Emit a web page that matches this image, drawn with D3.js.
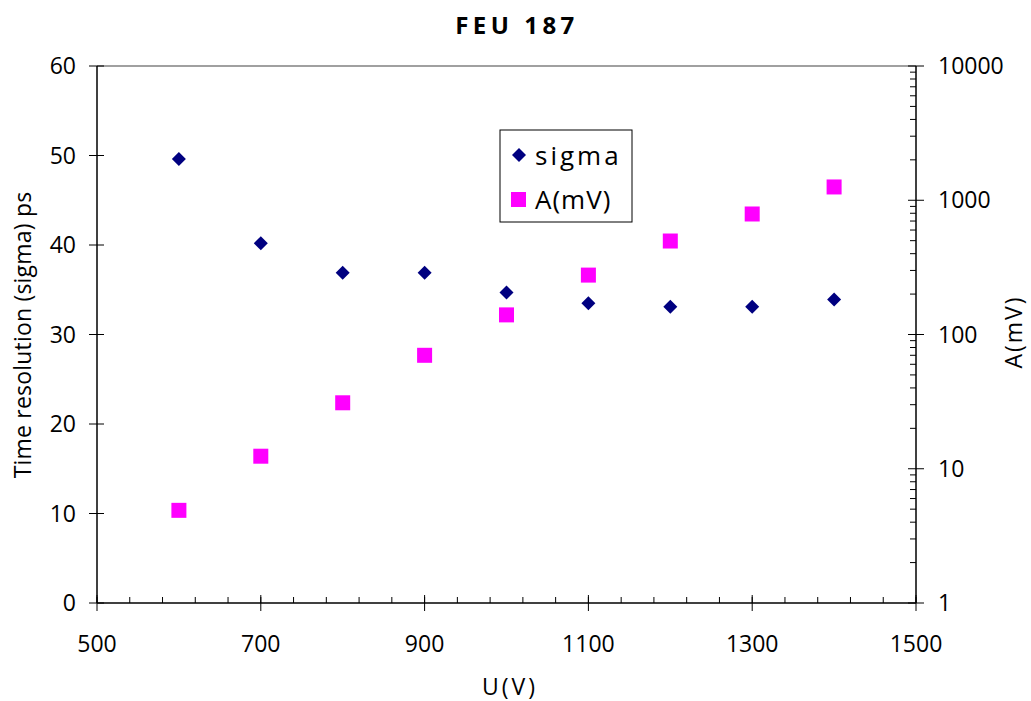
<!DOCTYPE html>
<html>
<head>
<meta charset="utf-8">
<script src="https://cdn.jsdelivr.net/npm/d3@7"></script>
<style>
  body { margin: 0; background: #fff; }
  text { font-family: "Open Sans", "DejaVu Sans", sans-serif; fill: #000; }
</style>
</head>
<body>
<svg id="chart" width="1031" height="701"></svg>
<script>
// Data
const voltage = [600, 700, 800, 900, 1000, 1100, 1200, 1300, 1400];
const sigma = [49.6, 40.2, 36.9, 36.9, 34.7, 33.5, 33.1, 33.1, 33.9];
const amplitude = [4.9, 12.4, 31, 70, 140, 277, 497, 790, 1256];
const xTicks = [500, 700, 900, 1100, 1300, 1500];
const yTicks = [0, 10, 20, 30, 40, 50, 60];
const y2Ticks = [1, 10, 100, 1000, 10000];

const margin = { top: 66, right: 115, bottom: 98, left: 97 },
      width = 1031 - margin.left - margin.right,
      height = 701 - margin.top - margin.bottom;

const svg = d3.select("#chart")
  .append("g")
  .attr("transform", `translate(${margin.left},${margin.top})`);

const x = d3.scaleLinear().domain([500, 1500]).range([0, width]);
const y = d3.scaleLinear().domain([0, 60]).range([height, 0]);
const y2 = d3.scaleLog().domain([1, 10000]).range([height, 0]);

// plot border (top)
svg.append("line")
  .attr("x1", 0).attr("x2", width).attr("y1", 0).attr("y2", 0)
  .attr("stroke", "#808080").attr("stroke-width", 1.5);

// X axis: minor ticks every 40, major every 200
const xAxis = svg.append("g").attr("transform", `translate(0,${height})`);
xAxis.append("line").attr("x1", 0).attr("x2", width).attr("stroke", "#000").attr("stroke-width", 1.5);
xAxis.selectAll(".minor")
  .data(d3.range(500, 1501, 40))
  .join("line")
  .attr("x1", d => x(d)).attr("x2", d => x(d))
  .attr("y1", -6).attr("y2", 0)
  .attr("stroke", "#000");
xAxis.selectAll(".major")
  .data(xTicks)
  .join("line")
  .attr("x1", d => x(d)).attr("x2", d => x(d))
  .attr("y1", -8).attr("y2", 8)
  .attr("stroke", "#000");
xAxis.selectAll("text.tick")
  .data(xTicks)
  .join("text")
  .attr("x", d => x(d)).attr("y", 49)
  .attr("text-anchor", "middle")
  .attr("font-size", 23)
  .text(d => d);

// left Y axis
const yAxis = svg.append("g");
yAxis.append("line").attr("y1", 0).attr("y2", height).attr("stroke", "#000").attr("stroke-width", 1.5);
yAxis.selectAll("line.t")
  .data(yTicks)
  .join("line")
  .attr("x1", -8).attr("x2", 7)
  .attr("y1", d => y(d)).attr("y2", d => y(d))
  .attr("stroke", "#000");
yAxis.selectAll("text")
  .data(yTicks)
  .join("text")
  .attr("x", -21).attr("y", d => y(d))
  .attr("dy", "0.35em")
  .attr("text-anchor", "end")
  .attr("font-size", 23)
  .text(d => d);

// right Y axis (log)
const r = svg.append("g").attr("transform", `translate(${width},0)`);
r.append("line").attr("y1", 0).attr("y2", height).attr("stroke", "#000").attr("stroke-width", 1.5);
const minorLog = [];
for (let dec = 1; dec < 10000; dec *= 10) {
  for (let k = 2; k <= 9; k++) minorLog.push(dec * k);
}
r.selectAll("line.minor")
  .data(minorLog)
  .join("line")
  .attr("x1", -6).attr("x2", 0)
  .attr("y1", d => y2(d)).attr("y2", d => y2(d))
  .attr("stroke", "#000");
r.selectAll("line.major")
  .data(y2Ticks)
  .join("line")
  .attr("x1", -8).attr("x2", 8)
  .attr("y1", d => y2(d)).attr("y2", d => y2(d))
  .attr("stroke", "#000");
r.selectAll("text")
  .data(y2Ticks)
  .join("text")
  .attr("x", 22).attr("y", d => y2(d))
  .attr("dy", "0.35em")
  .attr("font-size", 23)
  .text(d => d);

// Sigma markers (diamonds)
svg.selectAll("path.sigma")
  .data(voltage)
  .join("path")
  .attr("transform", (d, i) => `translate(${x(d)},${y(sigma[i])})`)
  .attr("d", "M0,-7L7,0L0,7L-7,0Z")
  .attr("fill", "#000080");

// A(mV) markers (squares)
svg.selectAll("rect.amp")
  .data(voltage)
  .join("rect")
  .attr("x", d => x(d) - 7.5)
  .attr("y", (d, i) => y2(amplitude[i]) - 7.5)
  .attr("width", 15).attr("height", 15)
  .attr("fill", "#ff00ff");

// Legend
const lg = svg.append("g").attr("transform", `translate(${500 - margin.left},${130 - margin.top})`);
lg.append("rect").attr("width", 132).attr("height", 92)
  .attr("fill", "#fff").attr("stroke", "#000").attr("stroke-width", 1);
lg.append("path").attr("transform", "translate(19,25)").attr("d", "M0,-7L7,0L0,7L-7,0Z").attr("fill", "#000080");
lg.append("text").attr("x", 35).attr("y", 26).attr("dy", "0.35em").attr("font-size", 26)
  .attr("letter-spacing", 3).text("sigma");
lg.append("rect").attr("x", 11).attr("y", 62).attr("width", 15).attr("height", 15).attr("fill", "#ff00ff");
lg.append("text").attr("x", 35).attr("y", 70).attr("dy", "0.35em").attr("font-size", 26)
  .attr("letter-spacing", 1).text("A(mV)");

// Titles
d3.select("#chart").append("text")
  .attr("x", 517).attr("y", 34)
  .attr("text-anchor", "middle")
  .attr("font-size", 24).attr("font-weight", "bold")
  .attr("letter-spacing", 4.5)
  .text("FEU 187");

d3.select("#chart").append("text")
  .attr("x", 510).attr("y", 695)
  .attr("text-anchor", "middle")
  .attr("font-size", 23)
  .attr("letter-spacing", 3)
  .text("U(V)");

d3.select("#chart").append("text")
  .attr("transform", "translate(31,335) rotate(-90)")
  .attr("text-anchor", "middle")
  .attr("font-size", 23)
  .attr("letter-spacing", 0.2)
  .text("Time resolution (sigma) ps");

d3.select("#chart").append("text")
  .attr("transform", "translate(1022,332) rotate(-90)")
  .attr("text-anchor", "middle")
  .attr("font-size", 23)
  .attr("letter-spacing", 2)
  .text("A(mV)");
</script>
</body>
</html>
